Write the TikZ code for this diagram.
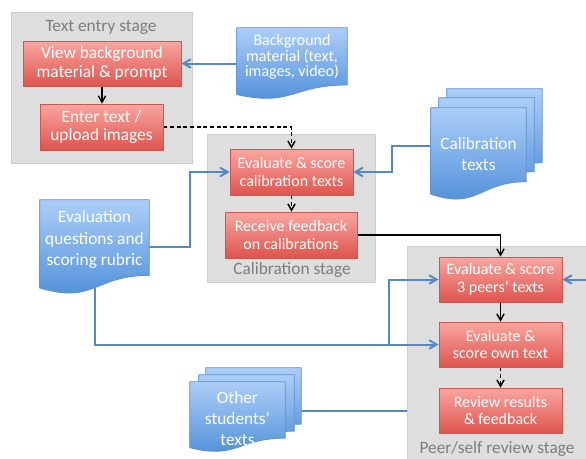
\documentclass[tikz,border=0pt]{standalone}
\usepackage{fontspec}
\setmainfont{Carlito}
\usepackage{tikz}
\usetikzlibrary{arrows,calc,positioning}
\definecolor{tasktop}{RGB}{250,166,160}
\definecolor{taskbot}{RGB}{222,84,78}
\definecolor{taskedge}{RGB}{204,88,84}
\definecolor{doctop}{RGB}{172,206,248}
\definecolor{docbot}{RGB}{74,140,215}
\definecolor{docedge}{RGB}{96,146,206}
\definecolor{linkblue}{RGB}{86,136,196}
\definecolor{stagegray}{RGB}{222,222,222}
\definecolor{stageedge}{RGB}{206,206,206}
\definecolor{labelgray}{RGB}{125,125,125}
\pgfdeclarelayer{stages}
\pgfdeclarelayer{links}
\pgfdeclarelayer{docs}
\pgfsetlayers{stages,links,docs,main}
\tikzset{
  stage/.style = {fill=stagegray, draw=stageedge, line width=0.5pt},
  stagelabel/.style = {text=labelgray, inner sep=0pt,
    font=\fontsize{13}{14}\selectfont},
  task/.style = {draw=taskedge, top color=tasktop, bottom color=taskbot,
    text=white, align=center, inner sep=0pt, line width=0.6pt,
    minimum width=92.25pt, minimum height=33.75pt,
    font=\fontsize{12}{13.3}\selectfont},% red step box
  bigtask/.style = {task, font=\fontsize{13}{13.8}\selectfont},
  doc/.style = {inner sep=0pt},% place holder for a document shape
  docfill/.style = {top color=doctop, bottom color=docbot, draw=docedge,
    line width=0.6pt},
  doctext/.style = {text=white, align=center, inner sep=0pt,
    font=\fontsize{13}{15.8}\selectfont},
  flow/.style = {->, >=angle 60, black, line width=1.1pt},
  flowdash/.style = {flow, dash pattern=on 3pt off 2pt},
  feed/.style = {->, >=angle 60, linkblue, line width=1.5pt}
}
% document shape with a wavy bottom, drawn round a doc node
\newcommand\docshape[2][0,0]{%
  \path[docfill] ($(#2.north west)+(#1)$) -- ($(#2.north east)+(#1)$)
    -- ($(#2.north east)!0.8!(#2.south east)+(#1)$)
    .. controls ($(#2.north)!0.8!(#2.south)+(#1)$)
    and ($(#2.north)!1.107!(#2.south)+(#1)$)
    .. ($(#2.north west)!0.934!(#2.south west)+(#1)$) -- cycle;}

\begin{document}
\begin{tikzpicture}[x=0.75pt,y=-0.75pt]
    \useasboundingbox (0,0) rectangle (586,458);

    % steps
    \node[bigtask, minimum width=118.5pt] (view) at (102,63.5) {View background\\material \& prompt};
    \node[bigtask, minimum height=34.5pt] (enter) at (101.5,127) {Enter text /\\upload images};
    \node[task, minimum height=34.5pt] (evcal) at (291.5,172) {Evaluate \& score\\calibration texts};
    \node[task, minimum width=99pt, minimum height=34.5pt] (recv) at (291,235) {Receive feedback\\on calibrations};
    \node[task] (evpeer) at (500.5,279.5) {Evaluate \& score\\3 peers’ texts};
    \node[task] (evown) at (500.5,344.5) {Evaluate \&\\score own text};
    \node[task] (review) at (500.5,410.5) {Review results\\\& feedback};

    % documents
    \node[doc, minimum width=82.5pt, minimum height=53.25pt] (bgdoc) at (292,63.5) {};
    \node[doc, minimum width=71.25pt, minimum height=69pt] (calib) at (478.5,154) {};
    \node[doc, minimum width=81.75pt, minimum height=70.5pt] (evdoc) at (94.5,247) {};
    \node[doc, minimum width=71.25pt, minimum height=52.5pt] (oth) at (237.5,417) {};
    \node[doctext, font=\fontsize{12}{11.8}\selectfont] (bgtext) at (292,57) {Background\\material (text,\\images, video)};
    \node[doctext] (calibtext) at (478.5,154.5) {Calibration\\texts};
    \node[doctext, font=\fontsize{13}{16}\selectfont] (evtext) at (94.5,239.5) {Evaluation\\questions and\\scoring rubric};
    \node[doctext, font=\fontsize{13}{16}\selectfont] (othtext) at (237.5,418.5) {Other\\students’\\texts};
    \begin{pgfonlayer}{docs}
      \docshape{bgdoc}
      \docshape[16,-19]{calib}
      \docshape[8,-10]{calib}
      \docshape{calib}
      \docshape{evdoc}
      \docshape[16,-14]{oth}
      \docshape[9,-7]{oth}
      \docshape{oth}
    \end{pgfonlayer}

    % stages
    \node[stagelabel] (entrylabel) at (101,27) {Text entry stage};
    \node[stagelabel] (calstagelabel) at (292,270) {Calibration stage};
    \node[stagelabel] (peerlabel) at (497,449) {Peer/self review stage};
    \begin{pgfonlayer}{stages}
      \draw[stage] (11,12) rectangle (192,163);
      \draw[stage] (207,134) rectangle (375,282);
      \draw[stage] (407,246) rectangle (610,470);
    \end{pgfonlayer}

    % connectors
    \begin{pgfonlayer}{links}
      \draw[flow] (view.south) -- (view.south |- enter.north);
      \draw[flowdash] (enter.east) -| (evcal.north);
      \draw[flowdash] (evcal.south) -- (evcal.south |- recv.north);
      \draw[flow] (recv.east) -| (evpeer.north);
      \draw[flow] (evpeer.south) -- (evpeer.south |- evown.north);
      \draw[flowdash] (evown.south) -- (evown.south |- review.north);
      \draw[feed] (bgdoc.west) -- (view.east);
      \draw[feed] (calib.170) -- ++(-39,0) |- (evcal.east);
      \draw[feed] (evdoc.east) -- ++(41,0) |- (evcal.west);
      \draw[feed] (evdoc.center) |- (evown.west);
      \draw[feed] (evdoc.center) |- ($(evown.west)+(-50,0)$) |- (evpeer.west);
      \begin{scope}
        \clip (0,0) rectangle (407,470) (407,0) rectangle (700,300);
        \draw[feed] ($(oth.center)+(0,-6)$) -| ($(evpeer.east)+(40,0)$) -- (evpeer.east);
      \end{scope}
    \end{pgfonlayer}
\end{tikzpicture}
\end{document}
